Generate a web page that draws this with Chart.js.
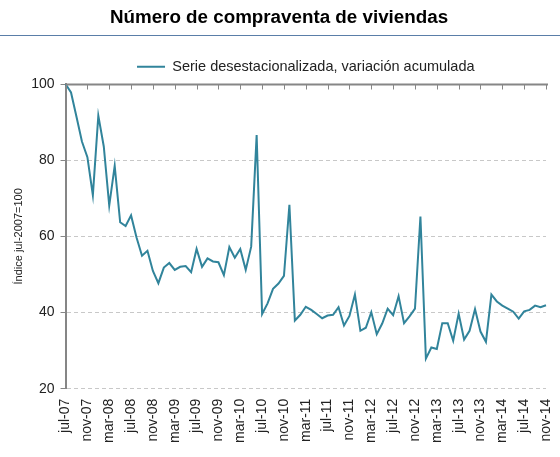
<!DOCTYPE html>
<html>
<head>
<meta charset="utf-8">
<script src="https://cdn.jsdelivr.net/npm/chart.js@4.4.0/dist/chart.umd.min.js"></script>
<style>
  html, body { margin: 0; padding: 0; background: #fff; }
  #wrap { width: 560px; height: 457px; }
</style>
</head>
<body>
<div id="wrap"><canvas id="chart"></canvas></div>
<script>
const monthNames = ['ene', 'feb', 'mar', 'abr', 'may', 'jun', 'jul', 'ago', 'sep', 'oct', 'nov', 'dic'];

// monthly categories, jul-07 .. nov-14
const months = [];
for (let y = 2007; y <= 2014; y++) {
  for (let m = 0; m < 12; m++) {
    if (y === 2007 && m < 6) continue;
    if (y === 2014 && m > 10) continue;
    months.push(monthNames[m] + '-' + String(y).slice(2));
  }
}

// índice jul-2007 = 100
const indexValues = [
  100, 97.8, 91.4, 84.9, 80.8, 70.8, 91.7, 83.6, 68.1, 78.5,
  63.7, 62.7, 65.5, 59.7, 54.9, 56.2, 50.9, 47.7, 51.8, 53.0,
  51.2, 52.0, 52.2, 50.6, 56.7, 52.0, 54.2, 53.4, 53.2, 49.8,
  57.2, 54.4, 56.7, 51.2, 57.3, 86.6, 39.6, 42.4, 46.2, 47.6,
  49.6, 68.3, 37.9, 39.4, 41.5, 40.7, 39.6, 38.5, 39.2, 39.4,
  41.4, 36.6, 39.1, 44.7, 35.2, 36.0, 40.1, 34.3, 37.1, 41.0,
  39.3, 44.3, 37.2, 39.0, 41.0, 65.2, 27.9, 30.8, 30.4, 37.2,
  37.2, 32.6, 39.7, 32.9, 35.2, 40.9, 35.0, 32.3, 44.7, 42.9,
  41.8, 41.0, 40.2, 38.4, 40.3, 40.7, 41.8, 41.4, 41.9
];

const yTicks = [20, 40, 60, 80, 100];
const labelEvery = 4;

const lineColor = '#31849B';
const axisColor = '#868686';

// title underline + top axis line with inward ticks
const decorations = {
  id: 'decorations',
  afterDraw(chart) {
    const ctx = chart.ctx;
    const x = chart.scales.x, y = chart.scales.y;
    ctx.save();
    // line under title
    ctx.strokeStyle = '#5a7ea8';
    ctx.lineWidth = 1;
    const ty = Math.round(chart.titleBlock.top) + 35.5;
    ctx.beginPath();
    ctx.moveTo(0, ty);
    ctx.lineTo(chart.width, ty);
    ctx.stroke();
    // top axis
    const top = Math.round(y.getPixelForValue(100)) + 0.5;
    ctx.strokeStyle = axisColor;
    ctx.lineWidth = 2;
    ctx.beginPath();
    ctx.moveTo(x.left, top);
    ctx.lineTo(x.right + 2, top);
    ctx.stroke();
    ctx.lineWidth = 1;
    ctx.beginPath();
    for (let i = 0; i < months.length; i += labelEvery) {
      const px = Math.round(x.getPixelForValue(i)) + 0.5;
      ctx.moveTo(px, top);
      ctx.lineTo(px, top + 5);
    }
    ctx.stroke();
    ctx.restore();
  }
};

new Chart(document.getElementById('chart'), {
  type: 'line',
  data: {
    labels: months,
    datasets: [{
      label: 'Serie desestacionalizada, variación acumulada',
      data: indexValues,
      borderColor: lineColor,
      backgroundColor: lineColor,
      borderWidth: 2,
      pointRadius: 0,
      tension: 0
    }]
  },
  options: {
    responsive: true,
    maintainAspectRatio: false,
    animation: false,
    layout: { padding: { left: 12, right: 14, top: 0, bottom: 12 } },
    plugins: {
      title: {
        display: true,
        text: 'Número de compraventa de viviendas',
        color: '#000',
        font: { family: 'Liberation Sans', size: 18.8, weight: 'bold' },
        padding: { top: 7, bottom: 21 }
      },
      legend: {
        display: true,
        fullSize: false,
        labels: {
          usePointStyle: true,
          pointStyle: 'line',
          pointStyleWidth: 28,
          color: '#222',
          font: { family: 'Liberation Sans', size: 14.5 },
          padding: 9
        }
      },
      tooltip: { enabled: false }
    },
    scales: {
      x: {
        offset: false,
        grid: { display: false },
        border: { display: false },
        afterFit: (s) => { s.paddingLeft = 0; s.paddingRight = 0; },
        ticks: {
          autoSkip: false,
          minRotation: 90,
          maxRotation: 90,
          padding: 2,
          color: '#222',
          font: { family: 'Liberation Sans', size: 14 },
          callback: (v, i) => (i % labelEvery === 0 ? months[i] : '')
        }
      },
      y: {
        min: 20,
        max: 100,
        afterBuildTicks: (axis) => { axis.ticks = yTicks.map(v => ({ value: v })); },
        grid: {
          color: (c) => (c.tick && c.tick.value === 100 ? 'rgba(0,0,0,0)' : '#c8c8c8'),
          tickColor: axisColor,
          tickLength: 5,
          tickBorderDash: []
        },
        border: { display: true, color: axisColor, width: 2, dash: [4, 3] },
        ticks: {
          padding: 6,
          color: '#222',
          font: { family: 'Liberation Sans', size: 14 }
        },
        title: {
          display: true,
          text: 'Índice jul-2007=100',
          color: '#222',
          font: { family: 'Liberation Sans', size: 11 },
          padding: { top: 0, bottom: 0 }
        }
      }
    }
  },
  plugins: [decorations]
});
</script>
</body>
</html>
